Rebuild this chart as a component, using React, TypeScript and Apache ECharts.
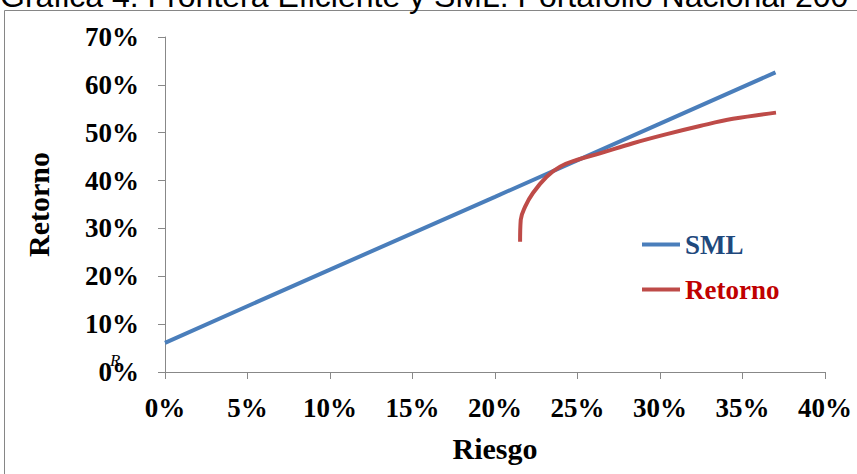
import React, { useEffect, useRef } from "react";
import * as echarts from "echarts";

const titleText = "Gráfica 4: Frontera Eficiente y SML: Portafolio Nacional 200";
const xAxisName = "Riesgo";
const yAxisName = "Retorno";

// SML: riesgo (%) , retorno (%)
const smlRisk = [0, 10, 20, 30, 37];
const smlReturn = [6.1, 21.4, 36.6, 51.9, 62.6];

// Frontera eficiente
const frontRisk = [21.52, 21.56, 21.82, 22.3, 23.13, 23.94, 24.95, 26.36, 28.36, 30.41, 32.42, 34.42, 37.03];
const frontReturn = [27.2, 31.8, 34.5, 37.4, 40.8, 42.9, 44.3, 45.7, 47.8, 49.7, 51.4, 52.9, 54.2];

const seriesNames = ["SML", "Retorno"];

export default function App() {
  const ref = useRef<HTMLDivElement>(null);
  useEffect(() => {
    if (!ref.current) return;
    const chart = echarts.init(ref.current, null, { renderer: "svg" });
    const serif = "'Liberation Serif', serif";
    const smlData = smlRisk.map((x, i) => [x, smlReturn[i]]);
    const frontData = frontRisk.map((x, i) => [x, frontReturn[i]]);
    chart.setOption({
      animation: false,
      backgroundColor: "#ffffff",
      grid: { left: 165, right: 32, top: 37, bottom: 102, containLabel: false },
      xAxis: {
        type: "value",
        min: 0,
        max: 40,
        interval: 5,
        name: xAxisName,
        nameLocation: "middle",
        nameGap: 61,
        nameTextStyle: { fontFamily: serif, fontWeight: "bold", fontSize: 30, color: "#000" },
        axisLine: { show: true, onZero: false, lineStyle: { color: "#888888", width: 1 } },
        axisTick: { show: true, inside: false, length: 7, lineStyle: { color: "#888888" } },
        splitLine: { show: false },
        axisLabel: {
          formatter: "{value}%",
          margin: 22,
          fontFamily: serif,
          fontWeight: "bold",
          fontSize: 27,
          color: "#000",
        },
      },
      yAxis: {
        type: "value",
        min: 0,
        max: 70,
        interval: 10,
        name: yAxisName,
        nameLocation: "middle",
        nameGap: 112,
        nameTextStyle: { fontFamily: serif, fontWeight: "bold", fontSize: 30, color: "#000" },
        axisLine: { show: true, lineStyle: { color: "#888888", width: 1 } },
        axisTick: { show: true, inside: false, length: 7, lineStyle: { color: "#888888" } },
        splitLine: { show: false },
        axisLabel: {
          formatter: "{value}%",
          margin: 26,
          fontFamily: serif,
          fontWeight: "bold",
          fontSize: 27,
          color: "#000",
        },
      },
      legend: {
        orient: "vertical",
        left: 637,
        top: 226,
        itemWidth: 38,
        itemHeight: 4,
        itemGap: 18,
        icon: "rect",
        textStyle: { fontFamily: serif, fontWeight: "bold", fontSize: 27 },
        data: [
          { name: seriesNames[0], textStyle: { color: "#1F497D" } },
          { name: seriesNames[1], textStyle: { color: "#C00000" } },
        ],
      },
      series: [
        {
          name: seriesNames[0],
          type: "line",
          data: smlData,
          symbol: "none",
          color: "#4A7EBB",
          lineStyle: { width: 4, color: "#4A7EBB" },
        },
        {
          name: seriesNames[1],
          type: "line",
          data: frontData,
          symbol: "none",
          smooth: 0.4,
          color: "#BE4B48",
          lineStyle: { width: 4, color: "#BE4B48" },
        },
      ],
      graphic: [
        {
          type: "rect",
          shape: { x: 4.5, y: 10.5, width: 1000, height: 1000 },
          style: { fill: "none", stroke: "#868686", lineWidth: 1 },
          silent: true,
          z: -1,
        },
        {
          type: "text",
          x: 0,
          y: -4,
          style: {
            text: titleText,
            fontFamily: "'Liberation Sans', Arial, sans-serif",
            fontSize: 32,
            fill: "#000",
            align: "left",
            verticalAlign: "middle",
          },
        },
        {
          type: "text",
          x: 110,
          y: 360,
          style: {
            text: "R",
            fontFamily: serif,
            fontStyle: "italic",
            fontSize: 17,
            fill: "#000",
            align: "left",
            verticalAlign: "middle",
          },
        },
      ],
    });
    return () => chart.dispose();
  }, []);
  return <div ref={ref} style={{ width: 857, height: 474, position: "absolute", left: 0, top: 0 }} />;
}
